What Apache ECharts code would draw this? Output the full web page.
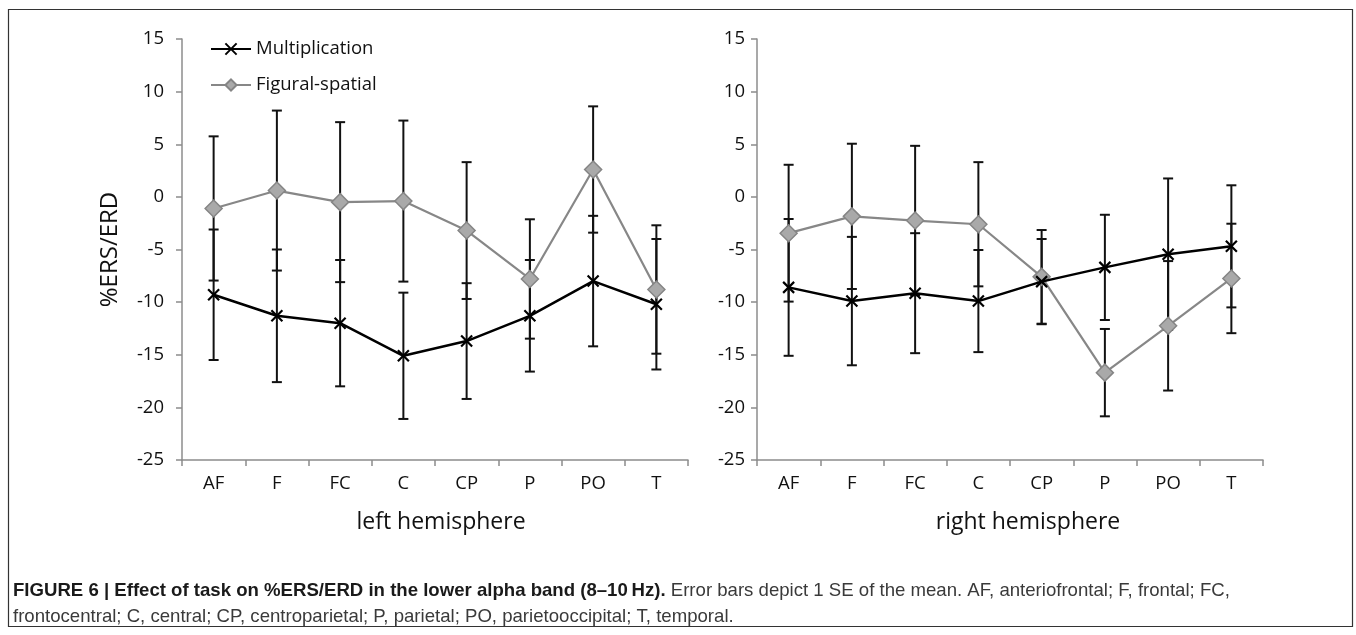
<!DOCTYPE html>
<html>
<head>
<meta charset="utf-8">
<script src="https://cdn.jsdelivr.net/npm/echarts@6/dist/echarts.min.js"></script>
<style>
html,body{margin:0;padding:0;background:#fff;}
#chart{width:1356px;height:635px;}
</style>
</head>
<body>
<div id="chart"></div>
<script>
// ---- data ----
var categories = ['AF', 'F', 'FC', 'C', 'CP', 'P', 'PO', 'T'];
var yTicks = { min: -25, max: 15, interval: 5 };

var leftMult     = [-9.3, -11.3, -12.0, -15.1, -13.7, -11.3, -8.0, -10.2];
var leftMultSE   = [6.2, 6.3, 6.0, 6.0, 5.5, 5.3, 6.2, 6.2];
var leftFig      = [-1.1, 0.6, -0.5, -0.4, -3.2, -7.8, 2.6, -8.8];
var leftFigSE    = [6.85, 7.6, 7.6, 7.65, 6.5, 5.67, 6.0, 6.1];

var rightMult    = [-8.6, -9.9, -9.15, -9.9, -8.05, -6.7, -5.45, -4.7];
var rightMultSE  = [6.5, 6.1, 5.7, 4.85, 4.05, 5.0, 7.2, 5.8];
var rightFig     = [-3.45, -1.85, -2.25, -2.6, -7.6, -16.7, -12.25, -7.75];
var rightFigSE   = [6.5, 6.9, 7.1, 5.9, 4.45, 4.15, 6.15, 5.2];

var seriesNames = ['Multiplication', 'Figural-spatial'];
var panelTitles = ['left hemisphere', 'right hemisphere'];
var yName = '%ERS/ERD';
var captionBold = 'FIGURE 6 | Effect of task on %ERS/ERD in the lower alpha band (8–10\u2009Hz).';
var captionRest1 = ' Error bars depict 1 SE of the mean. AF, anteriofrontal; F, frontal; FC,';
var captionLine2 = 'frontocentral; C, central; CP, centroparietal; P, parietal; PO, parietooccipital; T, temporal.';

// ---- chart ----
var FONT = '"Open Sans", sans-serif';
var CAP_FONT = '"Liberation Sans", Arial, sans-serif';
var AXIS_GRAY = '#8c8c8c';
var chart = echarts.init(document.getElementById('chart'), null, { renderer: 'canvas' });

function errData(mean, se) {
  return mean.map(function (m, i) { return [i, m - se[i], m + se[i]]; });
}
function renderErr(params, api) {
  var i = api.value(0);
  var lo = api.coord([i, api.value(1)]);
  var hi = api.coord([i, api.value(2)]);
  var hw = 5;
  var st = { stroke: '#111', lineWidth: 2 };
  return {
    type: 'group',
    children: [
      { type: 'line', shape: { x1: lo[0], y1: lo[1], x2: hi[0], y2: hi[1] }, style: st },
      { type: 'line', shape: { x1: hi[0] - hw, y1: hi[1], x2: hi[0] + hw, y2: hi[1] }, style: st },
      { type: 'line', shape: { x1: lo[0] - hw, y1: lo[1], x2: lo[0] + hw, y2: lo[1] }, style: st }
    ]
  };
}

var grids = [
  { left: 182, top: 39, width: 506, height: 421 },
  { left: 757, top: 39, width: 506, height: 421 }
];

function xAxis(gi) {
  return {
    type: 'category', gridIndex: gi, data: categories, boundaryGap: true,
    axisLine: { onZero: false, lineStyle: { color: AXIS_GRAY, width: 1.5 } },
    axisTick: { show: true, length: 6, lineStyle: { color: AXIS_GRAY, width: 1.5 } },
    axisLabel: { color: '#111', fontFamily: FONT, fontSize: 18.5, margin: 14 },
    splitLine: { show: false }
  };
}
function yAxis(gi, withName, margin) {
  var a = {
    type: 'value', gridIndex: gi, min: yTicks.min, max: yTicks.max, interval: yTicks.interval,
    axisLine: { show: true, onZero: false, lineStyle: { color: AXIS_GRAY, width: 1.5 } },
    axisTick: { show: true, length: 6, lineStyle: { color: AXIS_GRAY, width: 1.5 } },
    axisLabel: { color: '#111', fontFamily: FONT, fontSize: 18.5, margin: margin },
    splitLine: { show: false }
  };
  if (withName) {
    a.name = yName; a.nameLocation = 'middle'; a.nameGap = 60; a.nameRotate = 90;
    a.nameTextStyle = { color: '#111', fontFamily: FONT, fontSize: 24 };
  }
  return a;
}

var xSym = 'path://M0,0L10,10M10,0L0,10';

function multSeries(gi, data) {
  return {
    name: seriesNames[0], type: 'line', xAxisIndex: gi, yAxisIndex: gi, data: data,
    symbol: xSym, symbolSize: 11, z: 4,
    lineStyle: { color: '#000', width: 2.5 },
    itemStyle: { color: 'rgba(0,0,0,0)', borderColor: '#000', borderWidth: 2.2 },
    emphasis: { disabled: true }, animation: false
  };
}
function figSeries(gi, data) {
  return {
    name: seriesNames[1], type: 'line', xAxisIndex: gi, yAxisIndex: gi, data: data,
    symbol: 'diamond', symbolSize: 17, z: 3,
    lineStyle: { color: '#878787', width: 2.2 },
    itemStyle: { color: '#a9a9a9', borderColor: '#858585', borderWidth: 1.5 },
    emphasis: { disabled: true }, animation: false
  };
}
function errSeries(gi, data) {
  return {
    type: 'custom', xAxisIndex: gi, yAxisIndex: gi, data: data, renderItem: renderErr,
    z: 2, silent: true, animation: false
  };
}

var option = {
  animation: false,
  backgroundColor: '#fff',
  grid: grids,
  xAxis: [xAxis(0), xAxis(1)],
  yAxis: [yAxis(0, true, 18), yAxis(1, false, 12)],
  legend: {
    data: seriesNames, orient: 'vertical', left: 210, top: 39, padding: 0,
    itemWidth: 40, itemHeight: 14, itemGap: 16,
    textStyle: { color: '#111', fontFamily: FONT, fontSize: 18.5, lineHeight: 20 },
    selectedMode: false
  },
  series: [
    errSeries(0, errData(leftMult, leftMultSE)),
    errSeries(0, errData(leftFig, leftFigSE)),
    figSeries(0, leftFig),
    multSeries(0, leftMult),
    errSeries(1, errData(rightMult, rightMultSE)),
    errSeries(1, errData(rightFig, rightFigSE)),
    figSeries(1, rightFig),
    multSeries(1, rightMult)
  ],
  graphic: [
    { type: 'rect', shape: { x: 8.5, y: 9.5, width: 1344, height: 617 }, style: { fill: 'none', stroke: '#333', lineWidth: 1.2 }, silent: true },
    { type: 'text', x: 441, y: 522, style: { text: panelTitles[0], fontFamily: FONT, fontSize: 23, fill: '#111', align: 'center', verticalAlign: 'middle' } },
    { type: 'text', x: 1028, y: 522, style: { text: panelTitles[1], fontFamily: FONT, fontSize: 23, fill: '#111', align: 'center', verticalAlign: 'middle' } },
    { type: 'text', x: 13, y: 591, style: {
        text: '{b|' + captionBold + '}{n|' + captionRest1 + '}',
        verticalAlign: 'middle',
        rich: {
          b: { fontFamily: CAP_FONT, fontWeight: 'bold', fontSize: 18.6, fill: '#1a1a1a' },
          n: { fontFamily: CAP_FONT, fontSize: 18.6, fill: '#3a3a3a' }
        } } },
    { type: 'text', x: 13, y: 617, style: { text: captionLine2, verticalAlign: 'middle',
        fontFamily: CAP_FONT, fontSize: 18.6, fill: '#3a3a3a' } }
  ]
};
chart.setOption(option);
</script>
</body>
</html>
